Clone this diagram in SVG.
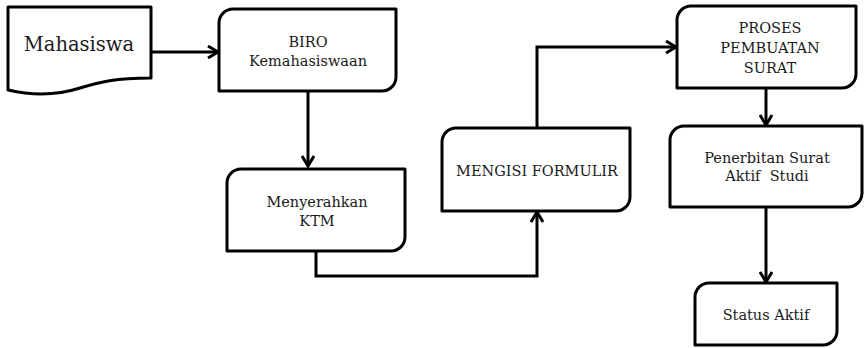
<svg xmlns="http://www.w3.org/2000/svg" width="865" height="348" viewBox="0 0 865 348">
<style>
.box{fill:#fff;stroke:#000;stroke-width:3;stroke-linejoin:round}
.t{font-family:"DejaVu Serif","Liberation Serif",serif;font-size:14.5px;fill:#1a1a1a;text-anchor:middle}
.big{font-size:19.5px}
.c{fill:none;stroke:#000;stroke-width:3;stroke-linejoin:miter}
</style>
<defs>
<marker id="arr" viewBox="0 0 14 14" markerWidth="14" markerHeight="14" markerUnits="userSpaceOnUse" refX="12" refY="7" orient="auto">
<path d="M2,1 L12,7 L2,13" fill="none" stroke="#000" stroke-width="3"/>
</marker>
</defs>
<rect width="865" height="348" fill="#fff"/>
<g id="connectors">
<path class="c" d="M151,52 H218" marker-end="url(#arr)"/>
<path class="c" d="M308,91 V166" marker-end="url(#arr)"/>
<path class="c" d="M316,251 V276 H537 V212" marker-end="url(#arr)"/>
<path class="c" d="M537,128 V47 H676" marker-end="url(#arr)"/>
<path class="c" d="M766,88 V125" marker-end="url(#arr)"/>
<path class="c" d="M766,207 V282" marker-end="url(#arr)"/>
</g>
<g id="mahasiswa">
<path class="box" d="M8,7 H151 V78 C115,78 100,82 80,88 C55,96 30,95 8,90 Z"/>
<text class="t big" x="79" y="51">Mahasiswa</text>
</g>
<g id="biro">
<path class="box" d="M233,9 H396 V77 A14,14 0 0 1 382,91 H219 V23 A14,14 0 0 1 233,9 Z"/>
<text class="t" x="308" y="47">BIRO</text>
<text class="t" x="308" y="66">Kemahasiswaan</text>
</g>
<g id="menyerahkan">
<path class="box" d="M241,169 H405 V237 A14,14 0 0 1 391,251 H227 V183 A14,14 0 0 1 241,169 Z"/>
<text class="t" x="317" y="207">Menyerahkan</text>
<text class="t" x="317" y="226">KTM</text>
</g>
<g id="mengisi">
<path class="box" d="M456,128 H630 V197 A14,14 0 0 1 616,211 H442 V142 A14,14 0 0 1 456,128 Z"/>
<text class="t" x="537" y="176">MENGISI FORMULIR</text>
</g>
<g id="proses">
<path class="box" d="M691,6 H856 V74 A14,14 0 0 1 842,88 H677 V20 A14,14 0 0 1 691,6 Z"/>
<text class="t" x="770" y="33">PROSES</text>
<text class="t" x="770" y="53">PEMBUATAN</text>
<text class="t" x="770" y="73">SURAT</text>
</g>
<g id="penerbitan">
<path class="box" d="M684,126 H862 V193 A14,14 0 0 1 848,207 H670 V140 A14,14 0 0 1 684,126 Z"/>
<text class="t" x="767" y="163">Penerbitan Surat</text>
<text class="t" x="767" y="181" xml:space="preserve">Aktif  Studi</text>
</g>
<g id="status">
<path class="box" d="M709,283 H837 V331 A14,14 0 0 1 823,345 H695 V297 A14,14 0 0 1 709,283 Z"/>
<text class="t" x="766" y="320">Status Aktif</text>
</g>
</svg>
